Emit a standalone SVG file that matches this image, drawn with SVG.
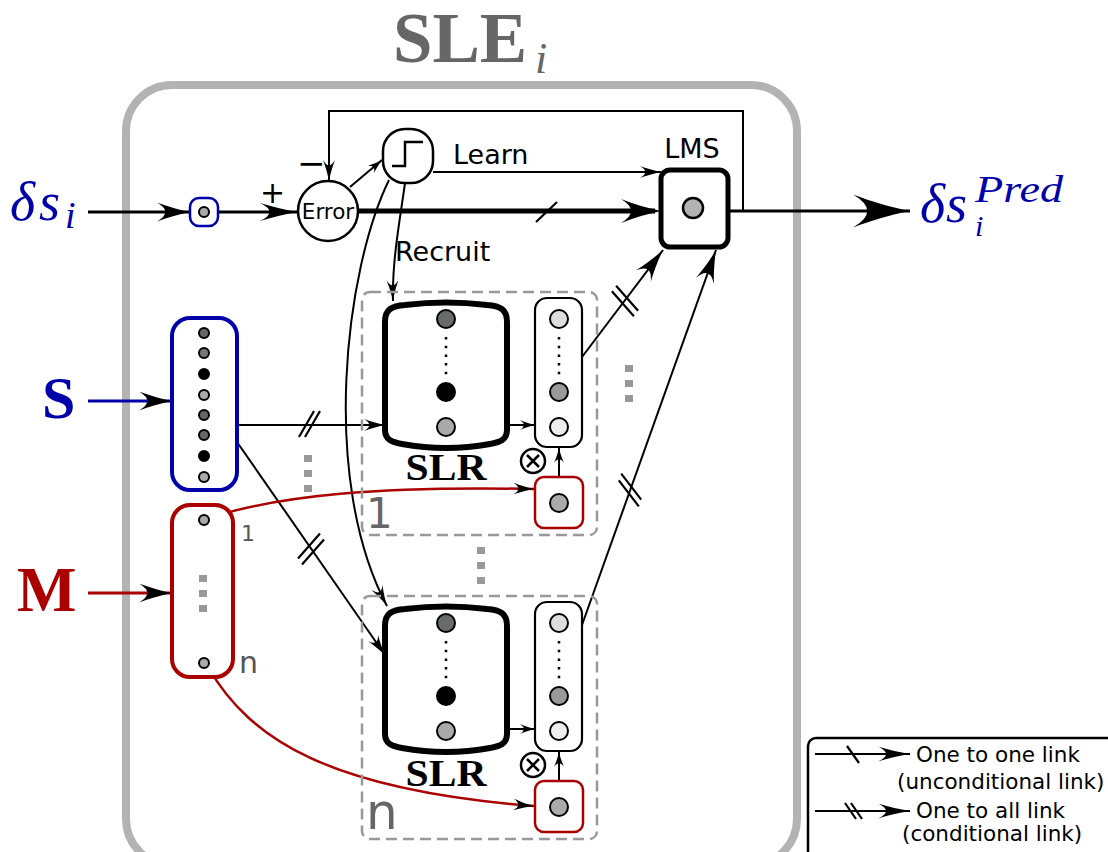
<svg xmlns="http://www.w3.org/2000/svg" width="1108" height="852" viewBox="0 0 1108 852">
<style>
.sans{font-family:"DejaVu Sans","Liberation Sans",sans-serif}
.serif{font-family:"Liberation Serif","DejaVu Serif",serif}
.ln{fill:none;stroke:#000;stroke-width:2}
.sl{fill:none;stroke:#000;stroke-width:2.2}
.gdot{fill:none;stroke:#999;stroke-width:8;stroke-dasharray:7 8}
.dash{fill:#fff;fill-opacity:0;stroke:#999;stroke-width:2.5;stroke-dasharray:11 6}
.slr{fill:#fff;stroke:#000;stroke-width:6}
.col{fill:#fff;stroke:#000;stroke-width:2.2}
.mb{fill:#fff;stroke:#aa0000;stroke-width:2.5}
.c{stroke:#000;stroke-width:2}
.vd{fill:none;stroke:#000;stroke-width:2.5;stroke-dasharray:2.5 6.2}
</style>
<defs>
<marker id="a-xs" viewBox="-1 -0.5 1 1" refX="0" refY="0" markerWidth="15" markerHeight="10" markerUnits="userSpaceOnUse" orient="auto" preserveAspectRatio="none"><path d="M0,0 C-0.35,-0.12 -0.7,-0.3 -1,-0.5 Q-0.5,0 -1,0.5 C-0.7,0.3 -0.35,0.12 0,0 Z" fill="#000"/></marker>
<marker id="a-sm" viewBox="-1 -0.5 1 1" refX="0" refY="0" markerWidth="21" markerHeight="12" markerUnits="userSpaceOnUse" orient="auto" preserveAspectRatio="none"><path d="M0,0 C-0.35,-0.12 -0.7,-0.3 -1,-0.5 Q-0.5,0 -1,0.5 C-0.7,0.3 -0.35,0.12 0,0 Z" fill="#000"/></marker>
<marker id="a-md" viewBox="-1 -0.5 1 1" refX="0" refY="0" markerWidth="33" markerHeight="19" markerUnits="userSpaceOnUse" orient="auto" preserveAspectRatio="none"><path d="M0,0 C-0.35,-0.12 -0.7,-0.3 -1,-0.5 Q-0.5,0 -1,0.5 C-0.7,0.3 -0.35,0.12 0,0 Z" fill="#000"/></marker>
<marker id="a-bx" viewBox="-1 -0.5 1 1" refX="0" refY="0" markerWidth="38" markerHeight="18" markerUnits="userSpaceOnUse" orient="auto" preserveAspectRatio="none"><path d="M0,0 C-0.35,-0.12 -0.7,-0.3 -1,-0.5 Q-0.5,0 -1,0.5 C-0.7,0.3 -0.35,0.12 0,0 Z" fill="#000"/></marker>
<marker id="a-th" viewBox="-1 -0.5 1.2 1" refX="-0.15" refY="0" markerWidth="48" markerHeight="24" markerUnits="userSpaceOnUse" orient="auto" preserveAspectRatio="none"><path d="M0,0 C-0.35,-0.12 -0.7,-0.3 -1,-0.5 Q-0.5,0 -1,0.5 C-0.7,0.3 -0.35,0.12 0,0 Z" fill="#000"/></marker>
<marker id="a-lg" viewBox="-1 -0.5 1 1" refX="0" refY="0" markerWidth="57" markerHeight="33" markerUnits="userSpaceOnUse" orient="auto" preserveAspectRatio="none"><path d="M0,0 C-0.35,-0.12 -0.7,-0.3 -1,-0.5 Q-0.5,0 -1,0.5 C-0.7,0.3 -0.35,0.12 0,0 Z" fill="#000"/></marker>
<marker id="a-lgd" viewBox="-1 -0.5 1 1" refX="0" refY="0" markerWidth="32" markerHeight="15" markerUnits="userSpaceOnUse" orient="auto" preserveAspectRatio="none"><path d="M0,0 C-0.35,-0.12 -0.7,-0.3 -1,-0.5 Q-0.5,0 -1,0.5 C-0.7,0.3 -0.35,0.12 0,0 Z" fill="#000"/></marker>
</defs>

<rect x="0" y="0" width="1108" height="852" fill="#fff"/>

<g id="sle-frame">
<rect x="126" y="85" width="671" height="780" rx="46" fill="none" stroke="#b3b3b3" stroke-width="8"/>
<text class="serif" x="393" y="62" font-size="71" font-weight="bold" fill="#666">SLE</text>
<text class="serif" x="535" y="73" font-size="44" font-style="italic" fill="#666">i</text>
</g>

<g id="label-ds-in" class="serif" fill="#0000aa" font-style="italic">
<text font-size="54"><tspan x="10" y="220">δ</tspan><tspan x="39" y="220">s</tspan></text>
<text x="65" y="228" font-size="38">i</text>
</g>

<g id="label-ds-pred" class="serif" fill="#0000aa" font-style="italic">
<text font-size="54"><tspan x="920" y="222">δ</tspan><tspan x="946" y="222">s</tspan></text>
<text x="975" y="202" font-size="38" textLength="88" lengthAdjust="spacingAndGlyphs">Pred</text>
<text x="975" y="236" font-size="30">i</text>
</g>

<g id="label-S"><text class="serif" x="42" y="418" font-size="60" font-weight="bold" fill="#0000aa">S</text></g>
<g id="label-M"><text class="serif" x="17" y="611" font-size="63" font-weight="bold" fill="#aa0000">M</text></g>

<g id="connectors">
<path d="M88,212 L190,212" fill="none" stroke="#000" stroke-width="3" marker-end="url(#a-md)"/>
<path d="M218,212 L298,212" fill="none" stroke="#000" stroke-width="3" marker-end="url(#a-bx)"/>
<path d="M350,187 L382,160" class="ln" marker-end="url(#a-xs)"/>
<path d="M743,211 L743,111 L329,111 L329,181" class="ln" marker-end="url(#a-sm)"/>
<path d="M433,172 L661,172" class="ln" marker-end="url(#a-sm)"/>
<path d="M358,211 L655,211" fill="none" stroke="#000" stroke-width="5" marker-end="url(#a-th)"/>
<path d="M536,222 L557,202" class="sl"/>
<path d="M728,211 L910,211" fill="none" stroke="#000" stroke-width="3" marker-end="url(#a-lg)"/>
<path d="M405,183 C400,220 392,260 393,301" class="ln" marker-end="url(#a-sm)"/>
<path d="M389,180 C345,270 320,480 387,606" class="ln" marker-end="url(#a-sm)"/>
<path d="M88,401 L172,401" fill="none" stroke="#0000aa" stroke-width="3" marker-end="url(#a-md)"/>
<path d="M88,593 L172,593" fill="none" stroke="#aa0000" stroke-width="3" marker-end="url(#a-md)"/>
<path d="M237,425 L385,425" class="ln" marker-end="url(#a-sm)"/>
<path d="M299,437 L314,411 M305,437 L320,411" class="sl"/>
<path d="M237,442 L385,655" class="ln" marker-end="url(#a-sm)"/>
<path d="M298,558.6 L320,533.6 M302,564.4 L324,539.4" class="sl"/>
<path d="M209,518 C280,495 380,486 534,489" fill="none" stroke="#aa0000" stroke-width="2.5" marker-end="url(#a-sm)"/>
<path d="M208,667 C250,740 330,790 534,806" fill="none" stroke="#aa0000" stroke-width="2.5" marker-end="url(#a-sm)"/>
<path d="M507,425 L535,425" class="ln" marker-end="url(#a-xs)"/>
<path d="M559,477 L559,448" class="ln" marker-end="url(#a-xs)"/>
<path d="M507,729 L535,729" class="ln" marker-end="url(#a-xs)"/>
<path d="M559,781 L559,752" class="ln" marker-end="url(#a-xs)"/>
<path d="M582,357 L663,250" class="ln" marker-end="url(#a-md)"/>
<path d="M611.9,291.3 L633.9,316.3 M616.1,285.7 L638.1,310.7" class="sl"/>
<path d="M582,625 L716,250" class="ln" marker-end="url(#a-md)"/>
<path d="M618.8,480.3 L638.8,506.3 M621.2,473.7 L641.2,499.7" class="sl"/>
</g>

<g id="ellipsis-marks">
<path d="M308,455 L308,493" class="gdot"/>
<path d="M481,547 L481,585" class="gdot"/>
<path d="M629,365 L629,403" class="gdot"/>
</g>

<g id="input-ds">
<rect x="190" y="198" width="28" height="28" rx="9" fill="#fff" stroke="#0000aa" stroke-width="2.5"/>
<circle cx="204" cy="212" r="5" fill="#aaa" class="c"/>
</g>

<g id="error">
<circle cx="328" cy="211" r="30" fill="#fff" stroke="#000" stroke-width="2.5"/>
<text class="sans" x="328" y="219" font-size="21.5" text-anchor="middle">Error</text>
<text class="sans" x="260" y="203" font-size="30">+</text>
<text class="sans" x="297" y="175" font-size="34">−</text>
</g>

<g id="threshold">
<rect x="383" y="129" width="50" height="54" rx="22" fill="#fff" stroke="#000" stroke-width="2.5"/>
<path d="M392,166 L405,166 L405,142 L423,142" fill="none" stroke="#000" stroke-width="2.5"/>
<text class="sans" x="453" y="164" font-size="27">Learn</text>
<text class="sans" x="395" y="261" font-size="27">Recruit</text>
</g>

<g id="lms">
<rect x="661" y="170" width="67" height="77" rx="9" fill="#fff" stroke="#000" stroke-width="5"/>
<circle cx="693" cy="208" r="10" fill="#b3b3b3" stroke="#000" stroke-width="2.5"/>
<text class="sans" x="692" y="158" font-size="27" text-anchor="middle">LMS</text>
</g>

<g id="input-S">
<rect x="172" y="318" width="65" height="172" rx="18" fill="#fff" stroke="#0000aa" stroke-width="4"/>
<g class="c" stroke-width="1.8">
<circle cx="204" cy="333" r="5" fill="#666"/>
<circle cx="204" cy="353" r="5" fill="#777"/>
<circle cx="204" cy="374" r="5" fill="#000"/>
<circle cx="204" cy="395" r="5" fill="#aaa"/>
<circle cx="204" cy="415" r="5" fill="#666"/>
<circle cx="204" cy="435" r="5" fill="#666"/>
<circle cx="204" cy="456" r="5" fill="#000"/>
<circle cx="204" cy="477" r="5" fill="#aaa"/>
</g>
</g>

<g id="input-M">
<rect x="172" y="505" width="61" height="172" rx="18" fill="#fff" stroke="#aa0000" stroke-width="4"/>
<circle cx="204" cy="520" r="5" fill="#aaa" class="c"/>
<circle cx="204" cy="663" r="5" fill="#aaa" class="c"/>
<path d="M203,575 L203,613" class="gdot"/>
<text class="sans" x="241" y="541" font-size="22" fill="#555">1</text>
<text class="sans" x="239" y="673" font-size="30" fill="#555">n</text>
</g>

<g id="slr-1">
<rect x="362" y="292" width="235" height="243" rx="8" class="dash"/>
<path d="M385,322 C385,309 392,306 405,305 Q446,300 487,305 C500,306 507,309 507,322 L507,430 C507,440 500,442 490,444 Q446,452 402,444 C392,442 385,440 385,430 Z" class="slr"/>
<circle cx="446" cy="319" r="9" fill="#676c68" class="c"/>
<path d="M446,337 L446,377" class="vd"/>
<circle cx="446" cy="392" r="9" fill="#000" class="c"/>
<circle cx="446" cy="427" r="9" fill="#aaa" class="c"/>
<text class="serif" x="446" y="480" font-size="37" font-weight="bold" text-anchor="middle" textLength="81" lengthAdjust="spacingAndGlyphs">SLR</text>
<rect x="535" y="298" width="47" height="149" rx="12" class="col"/>
<circle cx="559" cy="319" r="9" fill="#ddd" class="c"/>
<path d="M559,337 L559,377" class="vd"/>
<circle cx="559" cy="392" r="9" fill="#999" class="c"/>
<circle cx="559" cy="427" r="9" fill="#eee" class="c"/>
<circle cx="533" cy="461" r="12" fill="#fff" stroke="#000" stroke-width="2.5"/>
<path d="M527,455 L539,467 M539,455 L527,467" stroke="#000" stroke-width="2.5"/>
<rect x="535" y="477" width="48" height="51" rx="9" class="mb"/>
<circle cx="559" cy="503" r="9" fill="#aaa" class="c"/>
<text class="sans" x="366" y="528" font-size="42" fill="#666">1</text>
</g>

<g id="slr-n" transform="translate(0,304)">
<rect x="362" y="292" width="235" height="243" rx="8" class="dash"/>
<path d="M385,322 C385,309 392,306 405,305 Q446,300 487,305 C500,306 507,309 507,322 L507,430 C507,440 500,442 490,444 Q446,452 402,444 C392,442 385,440 385,430 Z" class="slr"/>
<circle cx="446" cy="319" r="9" fill="#676c68" class="c"/>
<path d="M446,337 L446,377" class="vd"/>
<circle cx="446" cy="392" r="9" fill="#000" class="c"/>
<circle cx="446" cy="427" r="9" fill="#aaa" class="c"/>
<text class="serif" x="446" y="482" font-size="37" font-weight="bold" text-anchor="middle" textLength="81" lengthAdjust="spacingAndGlyphs">SLR</text>
<rect x="535" y="298" width="47" height="149" rx="12" class="col"/>
<circle cx="559" cy="319" r="9" fill="#ddd" class="c"/>
<path d="M559,337 L559,377" class="vd"/>
<circle cx="559" cy="392" r="9" fill="#999" class="c"/>
<circle cx="559" cy="427" r="9" fill="#eee" class="c"/>
<circle cx="533" cy="461" r="12" fill="#fff" stroke="#000" stroke-width="2.5"/>
<path d="M527,455 L539,467 M539,455 L527,467" stroke="#000" stroke-width="2.5"/>
<rect x="535" y="477" width="48" height="51" rx="9" class="mb"/>
<circle cx="559" cy="503" r="9" fill="#aaa" class="c"/>
<text class="sans" x="366" y="525" font-size="50" fill="#666">n</text>
</g>

<g id="legend">
<rect x="808" y="738" width="330" height="140" rx="8" fill="#fff" stroke="#000" stroke-width="2.5"/>
<path d="M815,754 L910,754" class="ln" marker-end="url(#a-lgd)"/>
<path d="M847,746 L859,763" class="sl"/>
<path d="M815,811 L910,811" class="ln" marker-end="url(#a-lgd)"/>
<path d="M845,803 L856,819 M851,803 L862,819" class="sl"/>
<g class="sans" font-size="21.5">
<text x="916" y="762">One to one link</text>
<text x="897" y="789">(unconditional link)</text>
<text x="916" y="818">One to all link</text>
<text x="902" y="841">(conditional link)</text>
</g>
</g>
</svg>
